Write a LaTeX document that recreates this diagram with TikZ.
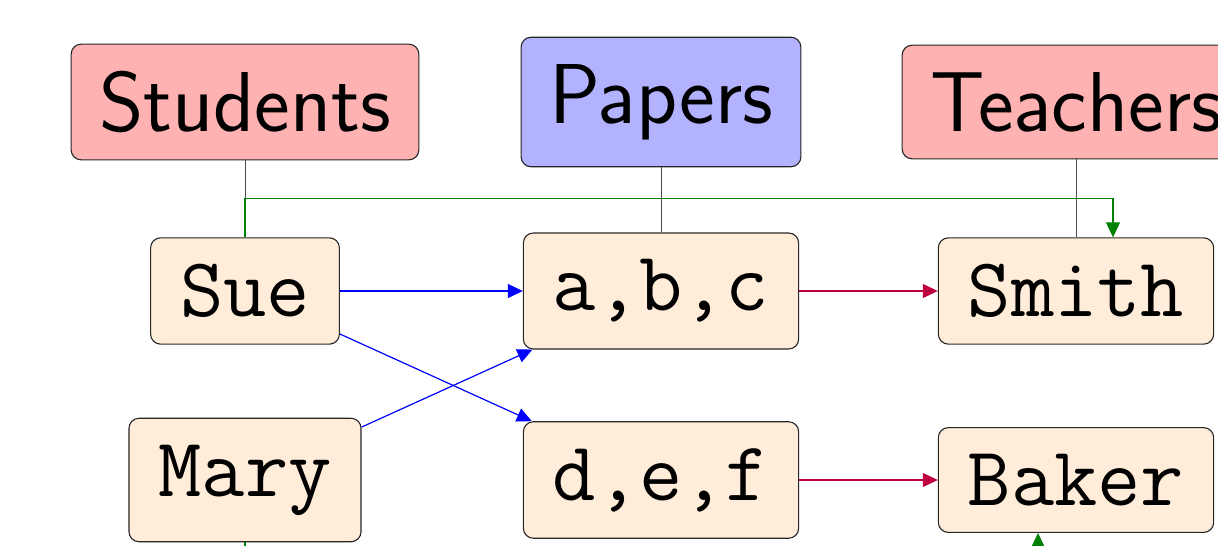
\documentclass[tikz,border=0pt]{standalone}
\usetikzlibrary{arrows.meta}
\definecolor{boxfill}{rgb}{1,0.925,0.85}
\definecolor{headred}{rgb}{1,0.7,0.7}
\definecolor{headblue}{rgb}{0.7,0.7,1}
\definecolor{arrgreen}{rgb}{0,0.5,0}
\definecolor{arrpurple}{rgb}{0.75,0,0.25}
\begin{document}
\begin{tikzpicture}[x=1pt,y=-1pt,
  base/.style={draw=black!85,line width=1.1pt,rounded corners=10pt},
  head/.style={base,font=\fontsize{85}{100}\selectfont\sffamily,inner xsep=28pt,inner ysep=27pt},
  item/.style={base,fill=boxfill,font=\fontsize{84}{100}\selectfont\ttfamily,inner xsep=29.5pt,inner ysep=26.5pt},
  tip/.style={-{Triangle[length=15pt,width=14pt]}},
  link/.style={draw=black!70,line width=1pt},
  blueArr/.style={tip,blue,line width=1.2pt},
  redArr/.style={tip,arrpurple,line width=1.2pt},
  greenArr/.style={tip,arrgreen,line width=1.2pt}]
\useasboundingbox (0,0) rectangle (1218,546);
\clip (0,0) rectangle (1218,546);
\node[head,fill=headred] (students) at (245,102) {Students};
\node[head,fill=headblue] (papers) at (661,102) {Papers};
\node[head,fill=headred] (teachers) at (1076,102) {Teachers};
\node[item] (sue) at (245,291) {Sue};
\node[item] (mary) at (245,480) {Mary};
\node[item] (abc) at (661,291) {a,b,c};
\node[item] (def) at (661,480) {d,e,f};
\node[item] (smith) at (1076,291) {Smith};
\node[item] (baker) at (1076,480) {Baker};
\draw[link] (students.south) -- (sue.north);
\draw[link] (papers.south) -- (abc.north);
\draw[link] (teachers.south) -- (smith.north);
\draw[greenArr] (sue.north) -- ++(0,-39) -| ([xshift=37pt]smith.north);
\draw[greenArr] (mary.south) -- ++(0,40) -| ([xshift=-38pt]baker.south);
\draw[blueArr] (sue) -- (abc);
\draw[blueArr] (sue) -- (def);
\draw[blueArr] (mary) -- (abc);
\draw[redArr] (abc) -- (smith);
\draw[redArr] (def) -- (baker);
\end{tikzpicture}
\end{document}
